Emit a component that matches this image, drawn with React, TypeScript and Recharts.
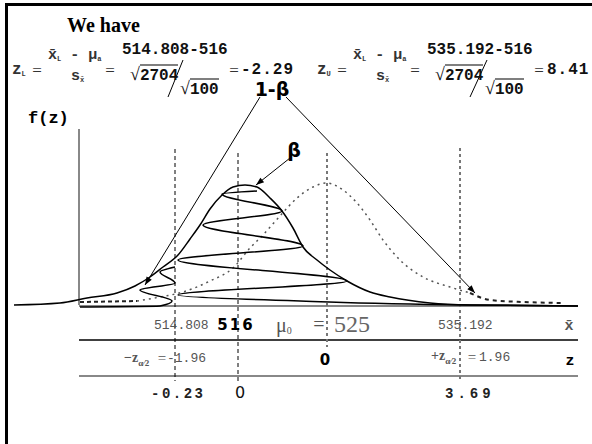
import React from 'react';
import { ComposedChart, Line, XAxis, YAxis, ReferenceLine } from 'recharts';

document.body.style.margin = '0';

// x = position along the sketch axis, f = height of the density above the base line
const altCurve = [
  { x: 14, f: 0 }, { x: 60, f: 2 }, { x: 87, f: 7 }, { x: 117, f: 12 }, { x: 135, f: 19 },
  { x: 150, f: 28 }, { x: 163, f: 38 }, { x: 178, f: 50 }, { x: 190, f: 66 }, { x: 200, f: 80 },
  { x: 210, f: 96 }, { x: 222, f: 110 }, { x: 233, f: 118 }, { x: 245, f: 120 },
  { x: 257, f: 118 }, { x: 270, f: 107 }, { x: 282, f: 94 }, { x: 293, f: 77 }, { x: 303, f: 58 },
  { x: 317, f: 45 }, { x: 330, f: 35 }, { x: 347, f: 24 }, { x: 370, f: 13 }, { x: 390, f: 8 },
  { x: 430, f: 2 }, { x: 470, f: 0 }, { x: 578, f: -1 },
];

const betaHatch = [
  { x: 257, f: 114 }, { x: 222, f: 111 }, { x: 282, f: 94 }, { x: 203, f: 80 }, { x: 303, f: 59 },
  { x: 178, f: 45 }, { x: 347, f: 24 }, { x: 178, f: 10 }, { x: 300, f: 4 }, { x: 470, f: 0 },
  { x: 578, f: -1 },
];

const powerHatch = [
  { x: 175, f: 38 }, { x: 160, f: 33 }, { x: 175, f: 22 }, { x: 140, f: 15 }, { x: 172, f: 4 },
  { x: 160, f: -1 }, { x: 80, f: -2 },
];

const nullCurve = [
  { x: 137, f: 4 }, { x: 160, f: 8 }, { x: 183, f: 13 }, { x: 210, f: 24 }, { x: 233, f: 37 },
  { x: 250, f: 57 }, { x: 263, f: 70 }, { x: 280, f: 89 }, { x: 297, f: 107 }, { x: 313, f: 118 },
  { x: 327, f: 122 }, { x: 343, f: 115 }, { x: 357, f: 102 }, { x: 370, f: 85 }, { x: 383, f: 65 },
  { x: 400, f: 45 }, { x: 423, f: 28 }, { x: 450, f: 18 }, { x: 470, f: 12 },
];
const nullLeftTail = [{ x: 80, f: 3 }, { x: 137, f: 4 }];
const nullRightTail = [{ x: 470, f: 12 }, { x: 490, f: 5 }, { x: 523, f: 3 }, { x: 563, f: 2 }];

// critical values and means on the sketch axis
const xLower = 175;
const xAlt = 238;
const xNull = 327;
const xUpper = 460;

const MONO = '"Liberation Mono", "DejaVu Sans Mono", monospace';
const SERIF = '"Liberation Serif", "DejaVu Serif", serif';
const SANS = '"DejaVu Sans", Verdana, sans-serif';

const Arrow = (props: any) => {
  const { x1, y1, x2, y2 } = props;
  const a = Math.atan2(y2 - y1, x2 - x1);
  const L = 8;
  const w = 3;
  const bx = x2 - L * Math.cos(a);
  const by = y2 - L * Math.sin(a);
  const pts = `${x2},${y2} ${bx + w * Math.sin(a)},${by - w * Math.cos(a)} ${bx - w * Math.sin(a)},${by + w * Math.cos(a)}`;
  return (
    <g>
      <line x1={x1} y1={y1} x2={x2} y2={y2} stroke="#000" strokeWidth={1} />
      <polygon points={pts} fill="#000" />
    </g>
  );
};

const Txt = ({ x, y, anchor = 'start', style, children }: any) => {
  const tx = anchor === 'middle' ? '-50%' : anchor === 'end' ? '-100%' : '0';
  return (
    <div
      style={{
        position: 'absolute', left: x, top: y, transform: `translate(${tx}, -50%)`,
        whiteSpace: 'nowrap', lineHeight: 1, ...style,
      }}
    >
      {children}
    </div>
  );
};

const sub = (t: string, size = 8) => (
  <span style={{ fontSize: size, verticalAlign: -2 }}>{t}</span>
);
const Sqrt = ({ children }: any) => (
  <span>
    <span style={{ fontFamily: SERIF, fontWeight: 400, fontSize: 18 }}>√</span>
    <span style={{ borderTop: '1px solid #000', paddingTop: 1 }}>{children}</span>
  </span>
);

const numStyle = { fontFamily: MONO, fontWeight: 700, fontSize: 16, color: '#111' };
const symStyle = { fontFamily: MONO, fontWeight: 700, fontSize: 15, color: '#333' };
const eqStyle = { fontFamily: SERIF, fontSize: 17, color: '#333' };

const Formula = ({ x0, name, top, result, slash }: any) => (
  <>
    <Txt x={x0} y={70} style={{ ...symStyle, fontSize: 16 }}>z{sub(name, 7)}</Txt>
    <Txt x={x0 + 25} y={70} anchor="middle" style={eqStyle}>=</Txt>
    <Txt x={x0 + 36} y={55} style={symStyle}>x̄{sub('L', 7)} - μ{sub('a', 7)}</Txt>
    <Txt x={x0 + 59} y={76} style={symStyle}>s{sub('x̄', 7)}</Txt>
    <Txt x={x0 + 98} y={70} anchor="middle" style={eqStyle}>=</Txt>
    <Txt x={x0 + 110} y={50} style={{ ...numStyle, fontSize: 16 }}>{top}</Txt>
    <Txt x={x0 + 118} y={74} style={numStyle}><Sqrt>2704</Sqrt></Txt>
    <Txt x={x0 + 168} y={88} style={numStyle}><Sqrt>100</Sqrt></Txt>
    <Txt x={x0 + 222} y={70} anchor="middle" style={eqStyle}>=</Txt>
    <Txt x={x0 + slash} y={70} style={{ ...numStyle, letterSpacing: 1 }}>{result}</Txt>
  </>
);

const fracAlpha = (
  <span style={{ fontSize: 9, verticalAlign: -4 }}>α⁄2</span>
);

export default function App() {
  return (
    <div style={{ position: 'relative', width: 592, height: 444, background: '#fff', overflow: 'hidden' }}>
      <ComposedChart width={592} height={444} margin={{ top: 0, right: 0, bottom: 0, left: 0 }}>
        <XAxis type="number" dataKey="x" domain={[0, 592]} hide allowDataOverflow />
        <YAxis type="number" dataKey="f" domain={[-139, 305]} hide allowDataOverflow />

        {/* f(z) axis and row rules */}
        <ReferenceLine segment={[{ x: 79, y: 0 }, { x: 79, y: 176 }]} stroke="#888" strokeWidth={2} />
        <ReferenceLine segment={[{ x: 79, y: -1 }, { x: 578, y: -1 }]} stroke="#888" strokeWidth={2} />
        <ReferenceLine segment={[{ x: 79, y: -35 }, { x: 578, y: -35 }]} stroke="#000" strokeWidth={1.5} />
        <ReferenceLine segment={[{ x: 79, y: -71 }, { x: 578, y: -71 }]} stroke="#888" strokeWidth={2} />

        {/* verticals at critical values / means */}
        <ReferenceLine segment={[{ x: xLower, y: 156 }, { x: xLower, y: -76 }]} stroke="#000" strokeDasharray="4 3" />
        <ReferenceLine segment={[{ x: xAlt, y: 152 }, { x: xAlt, y: -76 }]} stroke="#000" strokeDasharray="4 3" />
        <ReferenceLine segment={[{ x: xNull, y: 152 }, { x: xNull, y: -42 }]} stroke="#777" strokeWidth={2} strokeDasharray="3 3" />
        <ReferenceLine segment={[{ x: xUpper, y: 157 }, { x: xUpper, y: -76 }]} stroke="#777" strokeWidth={2} strokeDasharray="3 3" />

        {/* slashes of the s/sqrt(n) fractions */}
        <ReferenceLine segment={[{ x: 183, y: 245 }, { x: 168, y: 208 }]} stroke="#000" />
        <ReferenceLine segment={[{ x: 487, y: 245 }, { x: 470, y: 208 }]} stroke="#000" />

        {/* label pointers */}
        <ReferenceLine segment={[{ x: 260, y: 208 }, { x: 145, y: 20 }]} shape={Arrow} />
        <ReferenceLine segment={[{ x: 286, y: 208 }, { x: 475, y: 12 }]} shape={Arrow} />
        <ReferenceLine segment={[{ x: 290, y: 147 }, { x: 256, y: 120 }]} shape={Arrow} />

        <Line data={nullLeftTail} dataKey="f" type="linear" stroke="#222" strokeWidth={2} strokeDasharray="4 3" dot={false} activeDot={false} isAnimationActive={false} />
        <Line data={nullCurve} dataKey="f" type="monotone" stroke="#555" strokeWidth={1.5} strokeDasharray="2 4" dot={false} activeDot={false} isAnimationActive={false} />
        <Line data={nullRightTail} dataKey="f" type="monotone" stroke="#222" strokeWidth={2} strokeDasharray="4 4" dot={false} activeDot={false} isAnimationActive={false} />

        <Line data={altCurve} dataKey="f" type="monotone" stroke="#000" strokeWidth={1.5} dot={false} activeDot={false} isAnimationActive={false} />
        <Line data={betaHatch} dataKey="f" type="monotoneY" stroke="#000" strokeWidth={1.5} dot={false} activeDot={false} isAnimationActive={false} />
        <Line data={powerHatch} dataKey="f" type="monotoneY" stroke="#000" strokeWidth={1.5} dot={false} activeDot={false} isAnimationActive={false} />
      </ComposedChart>

      {/* frame */}
      <div style={{ position: 'absolute', left: 5, top: 3, right: 0, bottom: 0, borderTop: '3px solid #000', borderLeft: '3px solid #000', pointerEvents: 'none' }} />

      <Txt x={67} y={25} style={{ fontFamily: SERIF, fontWeight: 700, fontSize: 20 }}>We have</Txt>
      <Formula x0={12} name="L" top="514.808-516" result="-2.29" slash={229} />
      <Formula x0={317} name="U" top="535.192-516" result="8.41" slash={230} />

      <Txt x={28} y={118} style={{ fontFamily: MONO, fontWeight: 700, fontSize: 17 }}>f(z)</Txt>
      <Txt x={272} y={89} anchor="middle" style={{ fontFamily: SANS, fontWeight: 700, fontSize: 19 }}>1-β</Txt>
      <Txt x={294} y={150} anchor="middle" style={{ fontFamily: SANS, fontWeight: 700, fontSize: 19 }}>β</Txt>

      {/* x-bar row */}
      <Txt x={154} y={325} style={{ fontFamily: MONO, fontSize: 13, color: '#555' }}>514.808</Txt>
      <Txt x={236} y={325} anchor="middle" style={{ fontFamily: SANS, fontWeight: 700, fontSize: 15, letterSpacing: 2 }}>516</Txt>
      <Txt x={276} y={325} style={{ fontFamily: SERIF, fontSize: 20, color: '#555' }}>μ{sub('0', 10)}</Txt>
      <Txt x={319} y={324} anchor="middle" style={{ ...eqStyle, fontSize: 20, color: '#555' }}>=</Txt>
      <Txt x={334} y={324} style={{ fontFamily: SERIF, fontSize: 24, color: '#666' }}>525</Txt>
      <Txt x={438} y={325} style={{ fontFamily: MONO, fontSize: 13, color: '#555' }}>535.192</Txt>
      <Txt x={569} y={326} anchor="middle" style={{ fontFamily: MONO, fontWeight: 700, fontSize: 15, color: '#555' }}>x̄</Txt>

      {/* z row */}
      <Txt x={124} y={359} style={{ fontFamily: SERIF, fontWeight: 700, fontSize: 14, color: '#555' }}>−z{fracAlpha}</Txt>
      <Txt x={162} y={358} anchor="middle" style={{ ...eqStyle, fontSize: 15, color: '#555' }}>=</Txt>
      <Txt x={167} y={358} style={{ fontFamily: MONO, fontSize: 13, color: '#555' }}>-1.96</Txt>
      <Txt x={325} y={360} anchor="middle" style={{ fontFamily: SANS, fontWeight: 700, fontSize: 15 }}>0</Txt>
      <Txt x={431} y={357} style={{ fontFamily: SERIF, fontWeight: 700, fontSize: 14, color: '#555' }}>+z{fracAlpha}</Txt>
      <Txt x={472} y={357} anchor="middle" style={{ ...eqStyle, fontSize: 15, color: '#555' }}>=</Txt>
      <Txt x={479} y={357} style={{ fontFamily: MONO, fontSize: 13, color: '#555' }}>1.96</Txt>
      <Txt x={570} y={361} anchor="middle" style={{ fontFamily: MONO, fontWeight: 700, fontSize: 15 }}>z</Txt>

      {/* shifted z row */}
      <Txt x={151} y={394} style={{ fontFamily: MONO, fontWeight: 700, fontSize: 14, letterSpacing: 2.5, color: '#222' }}>-0.23</Txt>
      <Txt x={240} y={393} anchor="middle" style={{ fontFamily: SANS, fontSize: 16, color: '#111' }}>0</Txt>
      <Txt x={445} y={394} style={{ fontFamily: MONO, fontWeight: 700, fontSize: 14, letterSpacing: 4, color: '#222' }}>3.69</Txt>
    </div>
  );
}
